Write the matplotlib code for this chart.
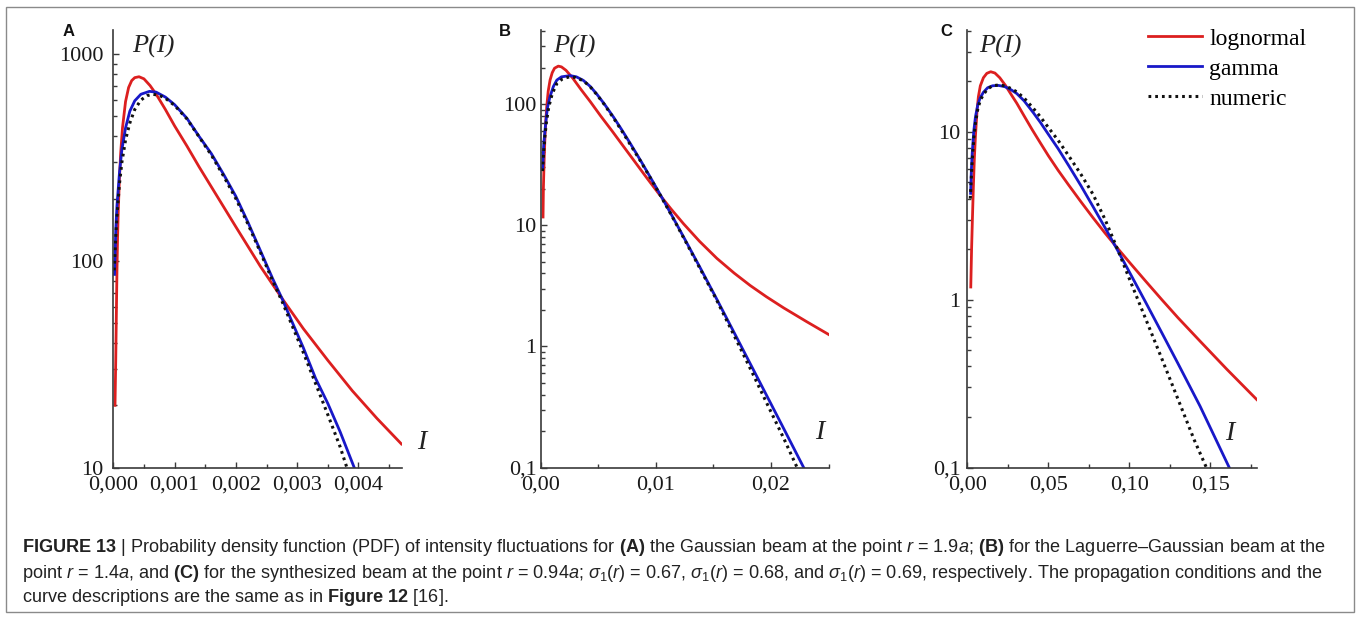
import numpy as np
import matplotlib
matplotlib.use("Agg")
import matplotlib.pyplot as plt
from matplotlib.ticker import FixedLocator, MultipleLocator, FuncFormatter, LogLocator, NullFormatter
from matplotlib.patches import Rectangle

plt.rcParams['font.family'] = 'Liberation Serif'
plt.rcParams['mathtext.fontset'] = 'custom'
plt.rcParams['mathtext.rm'] = 'Liberation Sans'
plt.rcParams['mathtext.it'] = 'Liberation Sans:italic'
plt.rcParams['mathtext.bf'] = 'Liberation Sans:bold'

# ---- panel A : gaussian beam, r = 1.9a ----
A_I_logn = [0.000028, 0.00004, 0.00005, 0.00006, 0.00007, 0.00008, 0.0001, 0.00012, 0.00015, 0.0002,
            0.00025, 0.0003, 0.00035, 0.00042, 0.0005, 0.0006, 0.0007, 0.00085, 0.001, 0.0012,
            0.0014, 0.0017, 0.002, 0.0024, 0.00275, 0.0031, 0.0035, 0.0039, 0.0043, 0.0047]
A_P_logn = [20, 33, 55, 90, 130, 170, 250, 330, 440, 590,
            690, 745, 770, 778, 760, 705, 640, 540, 450, 360,
            285, 204, 146, 94, 66, 47, 33, 23.5, 17.3, 13]
A_I_gam = [0.00002, 0.00004, 0.00006, 0.0001, 0.00014, 0.0002, 0.00027, 0.00035, 0.00045, 0.00059,
           0.0007, 0.00085, 0.001, 0.0012, 0.0014, 0.0016, 0.0018, 0.002, 0.0022, 0.0024,
           0.0026, 0.00275, 0.0029, 0.0031, 0.0033, 0.0035, 0.0037, 0.00393]
A_P_gam = [86, 140, 185, 265, 345, 440, 530, 595, 640, 661,
           655, 620, 570, 490, 400, 330, 262, 205, 153, 112,
           82, 66, 52, 38, 27, 20.4, 14.9, 10]
A_I_num = [0.000015, 0.00004, 0.00006, 0.0001, 0.00014, 0.0002, 0.00027, 0.00035, 0.00045, 0.00055,
           0.00065, 0.00075, 0.00085, 0.001, 0.0012, 0.0014, 0.0016, 0.0018, 0.002, 0.0022,
           0.0024, 0.0026, 0.00275, 0.0029, 0.0031, 0.0033, 0.0035, 0.0037, 0.00381]
A_P_num = [90, 130, 165, 235, 300, 385, 465, 540, 600, 630,
           640, 632, 612, 565, 487, 398, 325, 257, 200, 150,
           110, 80, 64, 50, 36, 25.5, 18, 12.6, 10]

# ---- panel B : Laguerre-Gaussian beam, r = 1.4a ----
B_I_logn = [0.0002, 0.00023, 0.0003, 0.00037, 0.00045, 0.00052, 0.00065, 0.00081, 0.001, 0.0012,
            0.00153, 0.0018, 0.0022, 0.0028, 0.0035, 0.0043, 0.0052, 0.0062, 0.0072, 0.0082,
            0.0092, 0.0102, 0.0113, 0.0124, 0.0138, 0.0153, 0.0168, 0.0182, 0.0196, 0.0211,
            0.0231, 0.0251]
B_P_logn = [11.7, 20, 36, 54, 75, 95, 128, 158, 182, 198,
            206, 203, 190, 163, 132, 105, 80, 60, 44.6, 33.2,
            24.7, 18.5, 13.7, 10.3, 7.36, 5.33, 4.03, 3.18, 2.57, 2.08,
            1.6, 1.24]
B_I_gam = [0.00017, 0.00025, 0.00037, 0.0005, 0.0006, 0.0008, 0.0011, 0.0014, 0.0018, 0.00255,
           0.0031, 0.0037, 0.0043, 0.00487, 0.0055, 0.00632, 0.007, 0.00777, 0.0087, 0.0095,
           0.0104, 0.0114, 0.0125, 0.01386, 0.0152, 0.01705, 0.0189, 0.0209, 0.02284]
B_P_gam = [30, 45, 61, 80, 95, 115, 140, 158, 168, 172,
           168, 157, 140, 121, 101, 78.2, 62.2, 47.5, 33.9, 25.1,
           17.8, 12.0, 7.72, 4.44, 2.55, 1.17, 0.535, 0.229, 0.1]
B_I_num = [0.00015, 0.00025, 0.00035, 0.0005, 0.0007, 0.001, 0.0014, 0.0019, 0.0025, 0.003,
           0.0037, 0.0043, 0.00487, 0.0055, 0.00632, 0.007, 0.00777, 0.0087, 0.0095, 0.0104,
           0.0114, 0.0125, 0.01386, 0.0152, 0.01705, 0.0184, 0.0197, 0.0211, 0.02227]
B_P_num = [28, 40, 53, 72, 95, 122, 148, 162, 168, 166,
           156, 139, 120, 100, 77, 61, 46.5, 33.5, 24.8, 17.6,
           11.9, 7.6, 4.35, 2.5, 1.1, 0.6, 0.33, 0.175, 0.1]

# ---- panel C : synthesized beam, r = 0.94a ----
C_I_logn = [0.0021, 0.0026, 0.0031, 0.0037, 0.0043, 0.005, 0.006, 0.0068, 0.008, 0.0099,
            0.012, 0.0144, 0.017, 0.02, 0.0235, 0.027, 0.0305, 0.035, 0.04, 0.045,
            0.05, 0.056, 0.0625, 0.07, 0.0775, 0.085, 0.0922, 0.1, 0.11, 0.12,
            0.13, 0.1436, 0.16, 0.1786]
C_P_logn = [1.19, 2.0, 3.0, 4.7, 6.9, 9.5, 13.5, 16.2, 18.8, 21.0,
            22.3, 22.8, 22.4, 21.0, 18.9, 16.7, 14.8, 12.45, 10.3, 8.6,
            7.2, 5.9, 4.82, 3.84, 3.08, 2.49, 2.05, 1.67, 1.29, 1.0,
            0.78, 0.566, 0.386, 0.254]
C_I_gam = [0.002, 0.0025, 0.003, 0.004, 0.005, 0.0065, 0.008, 0.0099, 0.0125, 0.0155,
           0.0191, 0.023, 0.027, 0.0305, 0.035, 0.0407, 0.045, 0.05, 0.056, 0.0625,
           0.07, 0.0775, 0.085, 0.0922, 0.1, 0.11, 0.12, 0.13, 0.1436, 0.1616]
C_P_gam = [4.3, 6.0, 7.5, 10.2, 12.3, 14.6, 16.0, 17.2, 18.3, 18.8,
           18.9, 18.6, 17.8, 16.9, 15.3, 13.0, 11.4, 9.66, 7.94, 6.3,
           4.79, 3.59, 2.68, 2.01, 1.46, 0.966, 0.635, 0.416, 0.232, 0.1]
C_I_num = [0.0018, 0.0025, 0.003, 0.004, 0.005, 0.0065, 0.008, 0.0099, 0.0125, 0.0155,
           0.0191, 0.023, 0.027, 0.0305, 0.035, 0.0407, 0.045, 0.05, 0.056, 0.0625,
           0.07, 0.0775, 0.085, 0.0922, 0.1, 0.11, 0.12, 0.13, 0.14, 0.1475]
C_P_num = [4.0, 5.5, 6.8, 9.2, 11.3, 13.8, 15.4, 16.7, 18.0, 18.8,
           19.0, 18.8, 18.1, 17.3, 15.9, 13.8, 12.3, 10.6, 8.9, 7.2,
           5.6, 4.25, 3.0, 2.05, 1.33, 0.77, 0.445, 0.255, 0.146, 0.1]

RED = '#dc1f1f'
BLUE = '#1818c8'
AXC = '#3a3a3a'

fig = plt.figure(figsize=(13.6, 6.18), dpi=100)


def setup(ax, xmax, ylo, yhi, xmajor, xminor, ndec, ypad):
    ax.set_yscale('log')
    ax.set_xlim(0, xmax)
    ax.set_ylim(ylo, yhi)
    ax.spines['top'].set_visible(False)
    ax.spines['right'].set_visible(False)
    for s in ['left', 'bottom']:
        ax.spines[s].set_color(AXC)
        ax.spines[s].set_linewidth(1.2)
    ax.xaxis.set_major_locator(FixedLocator(xmajor))
    ax.xaxis.set_minor_locator(MultipleLocator(xminor))
    ax.xaxis.set_major_formatter(FuncFormatter(lambda v, p: f"{v:.{ndec}f}".replace('.', ',')))
    ax.yaxis.set_major_locator(LogLocator(base=10))
    ax.yaxis.set_minor_locator(LogLocator(base=10, subs=np.arange(2, 10)))
    ax.yaxis.set_minor_formatter(NullFormatter())
    ax.yaxis.set_major_formatter(FuncFormatter(lambda v, p: f"{v:g}".replace('.', ',')))
    ax.tick_params(which='both', direction='in', color=AXC, width=1, labelsize=16, labelcolor='#1a1a1a')
    ax.tick_params(which='major', length=4.5)
    ax.tick_params(which='minor', length=3)
    ax.tick_params(axis='y', pad=ypad)
    ax.tick_params(axis='x', pad=6)


def curves(ax, d):
    l1, = ax.plot(d[0], d[1], color=RED, lw=2, label='lognormal')
    l2, = ax.plot(d[2], d[3], color=BLUE, lw=2, label='gamma')
    l3, = ax.plot(d[4], d[5], color='#111111', lw=2.2, linestyle=(0, (0.9, 1.3)), label='numeric')
    return [l1, l2, l3]


axA = fig.add_axes([0.0833, 0.2435, 0.2123, 0.7079])
axB = fig.add_axes([0.3976, 0.2435, 0.2122, 0.7079])
axC = fig.add_axes([0.7113, 0.2435, 0.2128, 0.7079])

curves(axA, [A_I_logn, A_P_logn, A_I_gam, A_P_gam, A_I_num, A_P_num])
curves(axB, [B_I_logn, B_P_logn, B_I_gam, B_P_gam, B_I_num, B_P_num])
hh = curves(axC, [C_I_logn, C_P_logn, C_I_gam, C_P_gam, C_I_num, C_P_num])

setup(axA, 0.00471, 10, 1309, [0, 0.001, 0.002, 0.003, 0.004], 0.0005, 3, 7)
setup(axB, 0.02507, 0.1, 409, [0, 0.01, 0.02], 0.005, 2, 3)
setup(axC, 0.1786, 0.1, 40.4, [0, 0.05, 0.10, 0.15], 0.025, 2, 5)

# axis titles inside the panels
for ax, px, ix, iy in [(axA, 0.065, 1.069, 0.058), (axB, 0.042, 0.968, 0.08), (axC, 0.0415, 0.908, 0.077)]:
    ax.text(px, 0.962, 'P(I)', transform=ax.transAxes, fontsize=19, style='italic',
            ha='left', va='center', color='#222222')
    ax.text(ix, iy, 'I', transform=ax.transAxes, fontsize=20, style='italic',
            ha='center', va='center', color='#222222')

# panel letters
for lab, x in [('A', 69), ('B', 505), ('C', 946)]:
    fig.text(x / 1360, 1 - 31 / 618, lab, fontsize=12, fontweight='bold', family='Liberation Sans',
             ha='center', va='center', color='#111111')

axC.legend(hh, [h.get_label() for h in hh], loc='upper left',
           bbox_to_anchor=(1148 / 1360, 1 - 28 / 618), bbox_transform=fig.transFigure,
           frameon=False, fontsize=17, handlelength=2.3, handletextpad=0.3,
           labelspacing=0.36, borderpad=0, borderaxespad=0)

# caption
cap1 = (r"$\mathbf{FIGURE\ 13}$ | Probability density function (PDF) of intensity fluctuations for "
        r"$\mathbf{(A)}$ the Gaussian beam at the point $r$ = 1.9$a$; $\mathbf{(B)}$ for the "
        r"Laguerre–Gaussian beam at the")
cap2 = (r"point $r$ = 1.4$a$, and $\mathbf{(C)}$ for the synthesized beam at the point $r$ = 0.94$a$; "
        r"$\sigma_1(r)$ = 0.67, $\sigma_1(r)$ = 0.68, and $\sigma_1(r)$ = 0.69, respectively. "
        r"The propagation conditions and the")
cap3 = r"curve descriptions are the same as in $\mathbf{Figure\ 12}$ [16]."
for txt, yy in [(cap1, 548), (cap2, 574), (cap3, 598)]:
    fig.text(22 / 1360, 1 - yy / 618, txt, fontsize=13.1, family='Liberation Sans',
             ha='left', va='center', color='#222222')

# frame around the whole figure
fig.patches.append(Rectangle((6 / 1360, 6 / 618), 1348 / 1360, 605 / 618, transform=fig.transFigure,
                             fill=False, edgecolor='#8a8a8a', lw=1))

fig.savefig('out.png', dpi=100)
